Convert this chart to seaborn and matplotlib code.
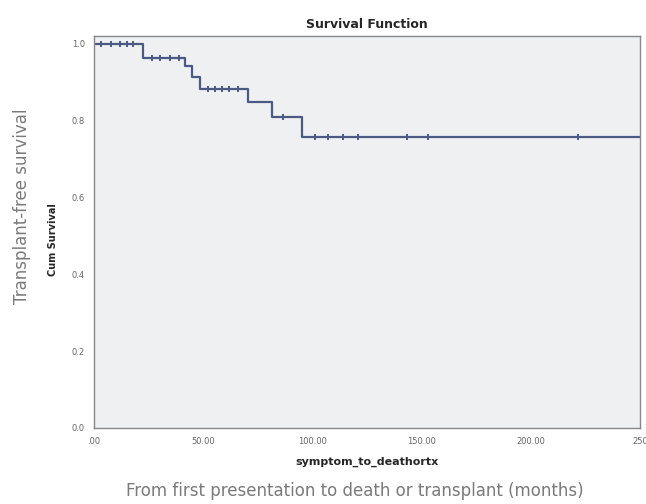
import seaborn as sns
import matplotlib.pyplot as plt
import pandas as pd

# Kaplan-Meier step values
step_time = [0, 22.4, 41.7, 44.9, 48.5, 70.5, 81.5, 95.2, 250]
step_surv = [1.0, 0.964, 0.941, 0.913, 0.883, 0.847, 0.809, 0.757, 0.757]

# censored observations (tick marks on the curve)
cens_time = [3, 8, 12, 15, 18, 26.5, 30, 35, 39, 52, 55.4, 58.6, 62, 66,
             86.5, 101.2, 107.1, 114, 120.9, 143.3, 152.9, 221.6]

xticks = [0, 50, 100, 150, 200, 250]
xtick_labels = ['.00', '50.00', '100.00', '150.00', '200.00', '250']
yticks = [0.0, 0.2, 0.4, 0.6, 0.8, 1.0]


def surv_at(t):
    s = step_surv[0]
    for tt, ss in zip(step_time, step_surv):
        if tt <= t:
            s = ss
    return s


steps = pd.DataFrame({'time': step_time, 'surv': step_surv})
cens = pd.DataFrame({'time': cens_time, 'surv': [surv_at(t) for t in cens_time]})

sns.set_style('white')
plt.rcParams['font.family'] = ['DejaVu Sans']

fig = plt.figure(figsize=(6.46, 5.04), dpi=100)
ax = fig.add_axes([0.1455, 0.151, 0.8455, 0.7775])
ax.set_facecolor('#eff0f2')

line_color = '#4b5a82'
sns.lineplot(data=steps, x='time', y='surv', drawstyle='steps-post',
             color=line_color, linewidth=1.6, ax=ax)
sns.scatterplot(data=cens, x='time', y='surv', marker='|', s=18,
                color=line_color, linewidth=1.4, ax=ax)

ax.set_xlim(0, 250)
ax.set_ylim(0, 1.02)
ax.set_xticks(xticks)
ax.set_xticklabels(xtick_labels)
ax.set_yticks(yticks)
ax.set_yticklabels(['%.1f' % v for v in yticks])
ax.tick_params(axis='both', labelsize=6, colors='#666666', length=3,
               direction='out', width=0.8)

for side in ['left', 'bottom', 'right', 'top']:
    ax.spines[side].set_color('#888888')
    ax.spines[side].set_linewidth(1.0)

ax.set_title('Survival Function', fontsize=9, fontweight='bold', pad=6)
ax.set_xlabel('symptom_to_deathortx', fontsize=8, fontweight='bold', labelpad=8)
ax.set_ylabel('Cum Survival', fontsize=7, fontweight='bold', labelpad=4)
ax.yaxis.set_label_coords(-0.065, 0.48)

# outer labels added to the figure
fig.text(0.55, 0.025, 'From first presentation to death or transplant (months)',
         ha='center', va='center', fontsize=12, color='#7a7a7a')
fig.text(0.034, 0.59, 'Transplant-free survival', rotation=90,
         ha='center', va='center', fontsize=12, color='#7a7a7a')

fig.savefig('out.png', dpi=100, facecolor='white')
